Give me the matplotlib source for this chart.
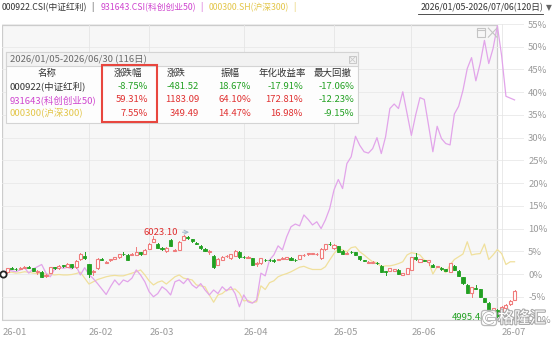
import numpy as np
import matplotlib
matplotlib.use("Agg")
import matplotlib.pyplot as plt
from matplotlib.patches import Rectangle, FancyBboxPatch, Arc
from matplotlib.lines import Line2D
import matplotlib.patheffects as pe

plt.rcParams['font.family'] = ['Noto Sans CJK SC', 'DejaVu Sans']

# ---------------- data ----------------
month_labels = ['26-01', '26-02', '26-03', '26-04', '26-05', '26-06', '26-07']
month_start_idx = [0, 20, 34, 56, 77, 95, 116]
y_ticks = [-10, -5, 0, 5, 10, 15, 20, 25, 30, 35, 40, 45, 50, 55]
sel_end_idx = 115   # 2026/06/30

# 000922 中证红利 (candles, % change)
hl_open = [-0.2, 0.4, 1.3, 1.2, 1.2, 1.4, 1.6, 1.25, 0.4, 0.5,
           -0.5, 0.3, 1.5, 1.3, 1.9, 1.6, 2.2, 1.5, 3.2, 4.0,
           2.1, 0.4, 1.25, 3.3, 2.5, 3.0, 3.4, 3.7, 4.45, 4.2,
           4.2, 4.2, 4.8, 4.5, 5.6, 7.1, 6.7, 5.7, 5.05, 7.5,
           5.1, 5.3, 7.5, 8.2, 7.7, 6.9, 6.2, 5.6, 4.95, 4.0,
           2.0, 3.1, 3.9, 3.5, 4.0, 4.9, 3.8, 3.6, 3.5, 2.3,
           2.35, 3.15, 3.1, 3.1, 3.05, 3.3, 3.4, 3.6, 3.15, 3.4,
           4.1, 4.3, 4.4, 4.3, 3.5, 5.4, 6.6, 5.7, 6.15, 5.1,
           4.5, 4.9, 4.8, 3.9, 3.05, 2.5, 2.5, 2.5, 1.8, 0.6,
           0.75, 0.75, 0.9, -0.2, 0.0, 0.9, 3.8, 2.7, 3.0, 2.7,
           2.0, 1.6, 1.4, 1.0, 0.5, 1.8, 0.7, -0.7, -2.4, -4.1,
           -3.1, -3.4, -5.35, -6.3, -8.3, -7.9, -8.6, -7.5, -6.7, -5.7]
hl_close = [0.1, 1.25, 1.2, 1.1, 1.4, 1.6, 1.4, 0.7, 0.6, -0.6,
            -0.3, 1.45, 1.35, 1.8, 1.75, 2.25, 1.5, 2.9, 4.3, 3.5,
            -0.05, 0.7, 3.4, 3.1, 2.75, 3.3, 3.65, 4.3, 4.3, 3.1,
            4.5, 4.9, 4.3, 5.3, 6.7, 7.8, 5.8, 5.6, 5.8, 6.2,
            5.3, 7.1, 8.4, 7.85, 7.25, 6.7, 5.65, 5.05, 5.05, 1.6,
            3.4, 3.8, 4.0, 4.4, 5.0, 3.7, 3.7, 3.75, 2.0, 2.5,
            3.5, 3.0, 3.0, 2.95, 3.2, 3.6, 3.7, 3.1, 3.0, 4.15,
            4.25, 4.55, 4.55, 4.45, 5.6, 6.5, 6.5, 6.4, 4.9, 4.5,
            4.7, 4.8, 4.2, 3.2, 2.9, 2.75, 2.7, 2.35, 0.5, 0.5,
            1.25, 1.0, 0.0, 0.15, 1.25, 3.66, 3.2, 3.2, 2.9, 3.0,
            1.6, 1.75, 1.0, 0.75, 2.35, 0.9, -0.45, -2.05, -4.1, -2.9,
            -3.2, -5.0, -6.1, -8.3, -7.55, -9.2, -7.2, -6.8, -5.9, -3.7]
hl_high = [0.3, 1.4, 1.5, 1.3, 1.5, 1.8, 1.7, 1.3, 0.8, 0.6,
           -0.1, 1.5, 1.6, 1.9, 2.0, 2.4, 2.3, 3.0, 4.6, 4.8,
           2.2, 0.8, 3.5, 3.5, 2.9, 3.4, 3.8, 4.4, 4.9, 4.3,
           4.6, 6.0, 4.9, 5.4, 6.8, 8.4, 6.8, 6.0, 5.9, 7.6,
           5.4, 7.2, 8.6, 8.3, 7.8, 7.0, 6.3, 5.7, 5.2, 4.1,
           3.5, 3.9, 4.1, 4.5, 5.3, 5.0, 4.0, 3.9, 3.6, 2.6,
           3.6, 3.2, 3.2, 3.2, 3.3, 3.7, 3.8, 3.7, 3.2, 4.2,
           4.4, 4.6, 4.7, 4.6, 5.7, 6.6, 7.0, 6.5, 6.2, 5.2,
           4.8, 5.1, 4.9, 4.0, 3.1, 2.9, 2.8, 2.6, 1.9, 0.7,
           1.3, 1.1, 1.0, 0.2, 1.3, 3.7, 4.7, 3.3, 3.1, 3.1,
           2.1, 1.8, 1.5, 1.1, 2.4, 1.9, 0.8, -0.6, -2.3, -2.8,
           -2.4, -3.3, -5.2, -6.2, -7.4, -7.8, -7.1, -6.7, -5.8, -3.6]
hl_low = [-0.3, 0.3, 1.0, 0.9, 1.1, 1.3, 1.3, 0.6, 0.0, -0.7,
          -0.6, 0.2, 1.2, 1.2, 1.6, 1.5, 1.4, 1.4, 3.1, 3.4,
          -0.6, -0.3, 1.2, 3.0, 2.4, 2.9, 3.3, 3.6, 4.2, 3.0,
          4.1, 4.1, 4.2, 4.4, 5.5, 7.0, 5.7, 5.2, 4.9, 6.1,
          5.0, 5.2, 7.4, 7.7, 7.1, 6.5, 5.6, 5.0, 4.5, 1.3,
          1.9, 3.0, 3.8, 3.4, 3.9, 3.6, 3.5, 3.5, 1.9, 1.8,
          2.3, 2.9, 2.9, 2.6, 3.0, 3.2, 3.3, 3.0, 2.9, 3.3,
          4.0, 4.2, 4.3, 4.2, 3.4, 5.3, 6.4, 5.6, 4.8, 4.4,
          4.4, 4.6, 4.1, 3.1, 2.8, 2.4, 2.4, 2.2, 0.4, -0.2,
          0.7, 0.7, -0.1, -0.3, -0.1, 0.8, 3.1, 2.6, 2.8, 2.0,
          1.5, 1.5, 0.9, 0.7, 0.4, 0.8, -0.5, -2.1, -4.2, -5.1,
          -3.3, -5.1, -6.2, -8.4, -8.4, -9.5, -8.7, -7.6, -6.8, -5.8]

# 931643 科创创业50 (% change)
kc50 = [0.0, 0.9, 0.7, 0.5, 0.9, 1.4, 0.2, 1.1, 1.6, 2.1,
        0.2, -0.6, 1.1, 1.6, 1.25, 1.5, 1.1, 1.8, -0.2, 1.4,
        -0.1, -1.0, -2.1, -3.3, -4.5, -2.8, -1.3, -2.4, -1.3, -1.7,
        -0.9, 0.9, -0.2, -1.7, -3.9, -5.0, -4.3, -2.8, -3.5, -4.6,
        -1.7, -1.3, -2.1, -1.0, -2.4, -3.1, -2.1, -3.5, -4.6, -3.5,
        -4.3, -2.8, -3.7, -2.8, -4.3, -7.2, -4.6, -6.1, -6.4, -5.7,
        0.2, -0.4, 3.1, 4.2, 6.2, 5.3, 8.2, 10.4, 11.0, 10.6,
        13.0, 12.0, 10.8, 11.5, 10.0, 11.9, 14.4, 18.5, 20.8, 18.8,
        24.3, 25.8, 30.3, 28.3, 26.9, 26.6, 27.6, 30.0, 26.5, 30.2,
        36.4, 37.4, 36.4, 40.1, 35.3, 30.5, 35.0, 38.8, 38.4, 32.7,
        26.9, 32.5, 29.8, 28.7, 28.4, 35.2, 36.9, 40.4, 45.2, 47.6,
        42.5, 46.3, 51.4, 46.3, 49.6, 54.6, 48.0, 39.1, 38.7, 38.3]

# 000300 沪深300 (% change)
hs300 = [0.0, 0.3, 0.4, 0.2, 0.3, 0.5, 0.4, 0.2, 0.1, 0.2,
         0.0, -0.1, -0.2, -0.1, -0.2, -0.2, -0.1, 0.1, 0.4, -0.9,
         -2.2, -1.7, -1.2, -0.9, -0.6, -0.4, -0.3, -0.4, -0.4, -0.1,
         0.2, 0.5, 0.9, -0.2, -1.5, -2.4, -1.8, -1.5, -2.2, -1.4,
         -0.6, -0.2, -0.9, -1.1, -1.3, -2.4, -2.6, -2.8, -4.6, -6.2,
         -4.6, -4.3, -3.5, -3.4, -3.3, -4.2, -5.9, -5.8, -6.3, -6.1,
         -2.6, -3.4, -1.9, -1.5, -0.6, -0.2, 0.1, 0.5, 1.0, 1.5,
         1.7, 1.3, 1.0, 1.0, 1.0, 1.6, 3.1, 4.5, 5.6, 5.3,
         4.9, 5.8, 6.0, 4.9, 4.2, 3.4, 2.7, 2.5, 1.6, 1.8,
         1.8, 2.0, 2.3, 2.7, 4.2, 4.7, 4.5, 4.2, 3.1, 2.7,
         0.0, 1.6, 1.3, 0.3, 2.0, 3.2, 3.8, 4.4, 7.1, 4.2,
         4.4, 4.5, 6.6, 3.2, 4.2, 5.4, 4.5, 2.1, 2.7, 2.7]

table_title = '2026/01/05-2026/06/30 (116日)'
table_cols = ['名称', '涨跌幅', '涨跌', '振幅', '年化收益率', '最大回撤']
table_names = ['000922(中证红利)', '931643(科创创业50)', '000300(沪深300)']
table_vals = [['-8.75%', '-481.52', '18.67%', '-17.91%', '-17.06%'],
              ['59.31%', '1183.09', '64.10%', '172.81%', '-12.23%'],
              ['7.55%', '349.49', '14.47%', '16.98%', '-9.15%']]
max_label = '6023.10'
min_label = '4995.48'
header_items = ['000922.CSI(中证红利)', '931643.CSI(科创创业50)', '000300.SH(沪深300)']
header_range = '2026/01/05-2026/07/06(120日)'
brand = '格隆汇'

# ---------------- style ----------------
RED = '#f07c7c'
GREEN = '#21a021'
C_KC = '#e2a4ea'
C_HS = '#f0e09c'
C_NAME = ['#333333', '#cf45cf', '#e3c64a']
UP_TXT = '#e03030'
DN_TXT = '#22a022'
W, H = 554, 337

def F(x, y):
    return (x / W, 1 - y / H)

fig = plt.figure(figsize=(W / 100, H / 100), dpi=100)
ax_l, ax_r, ax_t, ax_b = 2, 524, 24, 319.5
ax = fig.add_axes([ax_l / W, 1 - ax_b / H, (ax_r - ax_l) / W, (ax_b - ax_t) / H])
n = len(hl_close)
x = np.arange(n)
ax.set_xlim(-0.23, 121.2)
ax.set_ylim(-10, 55)
for s in ['top', 'left', 'right']:
    ax.spines[s].set_visible(False)
ax.spines['bottom'].set_color('#cfcfcf')
ax.spines['bottom'].set_linewidth(0.8)
ax.set_facecolor('white')

# selection shading
ax.add_patch(Rectangle((-0.23, -10), sel_end_idx + 0.23, 64.8, facecolor='#f7f7f7',
                       edgecolor='#cccccc', lw=0.9, zorder=0.5))
for v in y_ticks:
    ax.axhline(v, color='#e9e9e9', lw=0.6, zorder=1)
for m in month_start_idx[1:]:
    ax.axvline(m, color='#e6e6e6', lw=0.6, zorder=1)

# lines
ax.plot(x, hs300, color=C_HS, lw=0.9, zorder=2)
ax.plot(x, kc50, color=C_KC, lw=0.9, zorder=2)

# candles
bw = 0.72
for i in range(n):
    o, c, h, l = hl_open[i], hl_close[i], hl_high[i], hl_low[i]
    top, bot = max(o, c), min(o, c)
    hgt = max(top - bot, 0.08)
    if c >= o:
        ax.add_patch(Rectangle((i - bw / 2, bot), bw, hgt, facecolor='white',
                               edgecolor=RED, lw=0.8, zorder=3))
        ax.plot([i, i], [top, h], color=RED, lw=0.7, zorder=3)
        ax.plot([i, i], [l, bot], color=RED, lw=0.7, zorder=3)
    else:
        ax.add_patch(Rectangle((i - bw / 2, bot), bw, hgt, facecolor=GREEN,
                               edgecolor=GREEN, lw=0.6, zorder=3))
        ax.plot([i, i], [l, h], color=GREEN, lw=0.7, zorder=3)

ax.plot(0, hs300[0], 'o', ms=4.5, mfc='white', mec='#222222', mew=1.3, zorder=6, clip_on=False)

imax = int(np.argmax(hl_high))
imin = int(np.argmin(hl_low))
ax.annotate(max_label, xy=(imax + 1.3, hl_high[imax] + 0.6),
            xytext=(imax - 1.2, hl_high[imax] + 0.6), ha='right', va='center',
            color=UP_TXT, fontsize=6.8, zorder=7,
            arrowprops=dict(arrowstyle='->', color='#a6bccf', lw=0.8,
                            shrinkA=1, shrinkB=0))
ax.annotate(min_label, xy=(imin - 0.2, hl_low[imin]),
            xytext=(imin - 2.6, hl_low[imin]), ha='right', va='center',
            color=DN_TXT, fontsize=6.8, zorder=7,
            arrowprops=dict(arrowstyle='->', color='#a6bccf', lw=0.8,
                            shrinkA=1, shrinkB=0))

# selection-box icons (restore / close)
ax.add_patch(Rectangle((110.3, 52.2), 1.9, 1.9, fill=False, edgecolor='#c4c4c4', lw=0.8, zorder=6))
ax.plot([110.3, 112.2], [53.6, 53.6], color='#c4c4c4', lw=0.8, zorder=6)
ax.plot([112.9, 114.9], [54.1, 52.1], color='#c4c4c4', lw=0.8, zorder=6)
ax.plot([112.9, 114.9], [52.1, 54.1], color='#c4c4c4', lw=0.8, zorder=6)

# axes ticks
ax.yaxis.tick_right()
ax.set_yticks(y_ticks)
ax.set_yticklabels([f'{v}%' for v in y_ticks])
ax.tick_params(axis='y', length=0, pad=3, labelsize=6.8, labelcolor='#9a9a9a')
ax.set_xticks(month_start_idx)
ax.set_xticklabels(month_labels)
for t in ax.get_xticklabels():
    t.set_horizontalalignment('left')
ax.tick_params(axis='x', length=0, pad=6, labelsize=6.8, labelcolor='#9a9a9a')

# ---------------- header ----------------
fs_h = 6.3
renderer = fig.canvas.get_renderer()
cur = 2.0
for k, (txt, col) in enumerate(zip(header_items, C_NAME)):
    t = fig.text(*F(cur, 7.5), txt, color=col, fontsize=fs_h, va='center', ha='left')
    wpx = t.get_window_extent(renderer).width
    sep_x = cur + wpx + 5
    fig.text(*F(sep_x, 7.5), '|', color=col, fontsize=fs_h, va='center', ha='center')
    cur = sep_x + 8
fig.text(*F(543, 7.5), header_range, color='#333333', fontsize=fs_h, va='center', ha='right')
fig.add_artist(Line2D([418 / W, 543 / W], [1 - 13.5 / H, 1 - 13.5 / H], color='#333333', lw=0.6))
fig.text(*F(549, 7.5), '▼', color='#666666', fontsize=5.5, va='center', ha='center',
         family=['DejaVu Sans'])

# ---------------- table ----------------
tx0, tx1, ty0, ty1 = 6, 358, 52, 123
fig.add_artist(Rectangle(F(tx0, ty1), (tx1 - tx0) / W, (ty1 - ty0) / H, transform=fig.transFigure,
                         facecolor='#fdfdfd', edgecolor='#d4d4d4', lw=0.8, zorder=10))
fig.add_artist(Rectangle(F(tx0, 66), (tx1 - tx0) / W, 14 / H, transform=fig.transFigure,
                         facecolor='#f2f2f2', edgecolor='#d4d4d4', lw=0.8, zorder=10))
fs_t = 6.8
fig.text(*F(10, 59.5), table_title, color='#6a6a6a', fontsize=fs_t, va='center', ha='left', zorder=11)
fig.add_artist(Rectangle(F(349, 63), 7 / W, 7 / H, transform=fig.transFigure, fill=False,
                         edgecolor='#c8c8c8', lw=0.7, zorder=11))
fig.add_artist(Line2D([350 / W, 355 / W], [1 - 57 / H, 1 - 62 / H], color='#c8c8c8', lw=0.6, zorder=11))
fig.add_artist(Line2D([350 / W, 355 / W], [1 - 62 / H, 1 - 57 / H], color='#c8c8c8', lw=0.6, zorder=11))

col_hdr_x = [47, 128, 176, 230, 282, 333]
col_val_x = [148, 199, 251, 303, 354]
row_y = [86.5, 99.8, 113.3]
for cx, cname in zip(col_hdr_x, table_cols):
    fig.text(*F(cx, 73.5), cname, color='#333333', fontsize=fs_t, va='center', ha='center', zorder=11)
for r, (nm, vals) in enumerate(zip(table_names, table_vals)):
    fig.text(*F(10, row_y[r]), nm, color=C_NAME[r], fontsize=fs_t, va='center', ha='left', zorder=11)
    row_up = not vals[0].startswith('-')
    for k, (vx, v) in enumerate(zip(col_val_x, vals)):
        if k == 2:
            col = UP_TXT if row_up else DN_TXT
        else:
            col = DN_TXT if v.startswith('-') else UP_TXT
        fig.text(*F(vx, row_y[r]), v, color=col, fontsize=fs_t, va='center', ha='right', zorder=11)

fig.add_artist(Rectangle(F(102, 122), 55 / W, 57 / H, transform=fig.transFigure, fill=False,
                         edgecolor='#e8463e', lw=1.5, zorder=12))

# ---------------- watermark (logo drawn as shapes + brand text) ----------------
lax = fig.add_axes([480 / W, 1 - 327 / H, 18 / W, 18 / H])
lax.set_xlim(0, 1)
lax.set_ylim(0, 1)
lax.axis('off')
lax.patch.set_alpha(0)
stroke = [pe.withStroke(linewidth=2.6, foreground='#a8a8a8')]
lax.add_patch(FancyBboxPatch((0.08, 0.08), 0.84, 0.84, boxstyle='round,pad=0,rounding_size=0.18',
                             facecolor='white', edgecolor='#b4b4b4', lw=0.9, alpha=0.92))
lax.add_patch(Arc((0.5, 0.5), 0.55, 0.55, theta1=40, theta2=320, color='white', lw=1.6,
                  path_effects=stroke))
lax.plot([0.5, 0.77], [0.45, 0.45], color='white', lw=1.6, path_effects=stroke)
fig.text(*F(522, 318.5), brand, color='white', fontsize=11.5, va='center', ha='center', zorder=14,
         path_effects=[pe.withStroke(linewidth=1.6, foreground='#a8a8a8')])

fig.savefig('out.png', dpi=100)
